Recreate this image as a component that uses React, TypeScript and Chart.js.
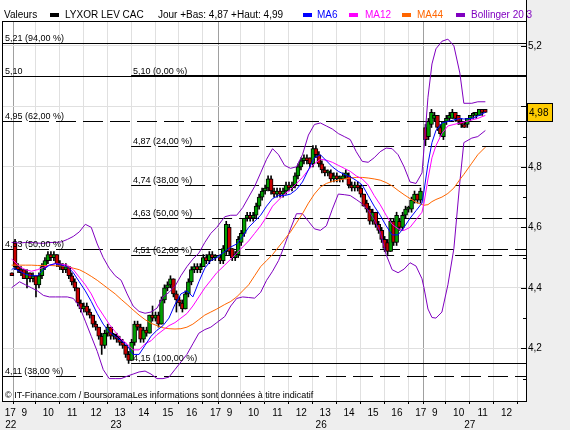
import React, { useEffect, useRef } from 'react';
import { Chart, registerables } from 'chart.js';

Chart.register(...registerables);

const FONT = '"Liberation Sans", Arial, sans-serif';

// ---------- time axis ----------
const dayOrder = ['22', '23', '26', '27'];
const sessionOpen = '09:05';
const sessionClose = '17:40';
const viewStart = '22 17:11';
const viewEnd = '27 13:21';

// ---------- candles ----------
const candleDays = ['22', '23', '26', '27'];
const candleFirst = ['17:32', '09:05', '09:05', '09:05'];
const candleCounts = [1, 68, 68, 21];
const candleStep = 7.5; // minutes per candle

const opens = [
  4.45,
  4.55, 4.47, 4.46, 4.46, 4.43, 4.45, 4.43, 4.44, 4.41, 4.44, 4.47, 4.49, 4.51, 4.50, 4.51, 4.48, 4.47, 4.46, 4.47, 4.44,
  4.42, 4.40, 4.35, 4.33, 4.34, 4.32, 4.31, 4.28, 4.27, 4.24, 4.21, 4.25, 4.27, 4.24, 4.24, 4.23, 4.22, 4.21, 4.18, 4.16,
  4.22, 4.28, 4.27, 4.23, 4.26, 4.25, 4.31, 4.30, 4.31, 4.28, 4.36, 4.40, 4.41, 4.43, 4.38, 4.36, 4.35, 4.33, 4.38, 4.42,
  4.46, 4.47, 4.46, 4.47, 4.50, 4.49, 4.51, 4.50,
  4.50, 4.49, 4.52, 4.60, 4.53, 4.50, 4.51, 4.55, 4.58, 4.63, 4.64, 4.63, 4.64, 4.67, 4.70, 4.72, 4.73, 4.76, 4.72, 4.71,
  4.72, 4.71, 4.72, 4.74, 4.73, 4.74, 4.77, 4.80, 4.82, 4.83, 4.83, 4.81, 4.86, 4.84, 4.81, 4.79, 4.78, 4.78, 4.76, 4.77,
  4.76, 4.76, 4.77, 4.77, 4.74, 4.73, 4.74, 4.73, 4.71, 4.68, 4.66, 4.62, 4.65, 4.61, 4.59, 4.56, 4.55, 4.52, 4.62, 4.55,
  4.62, 4.60, 4.64, 4.66, 4.66, 4.69, 4.71, 4.69,
  4.93, 4.90, 4.94, 4.96, 4.97, 4.93, 4.90, 4.95, 4.96, 4.96, 4.98, 4.97, 4.95, 4.94, 4.94, 4.96, 4.97, 4.97, 4.97, 4.99,
  4.99,
];
const highs = [
  4.45,
  4.56, 4.48, 4.47, 4.46, 4.46, 4.45, 4.45, 4.44, 4.45, 4.48, 4.50, 4.52, 4.52, 4.52, 4.51, 4.49, 4.48, 4.48, 4.47, 4.45,
  4.43, 4.40, 4.36, 4.35, 4.35, 4.33, 4.31, 4.29, 4.27, 4.25, 4.26, 4.28, 4.27, 4.25, 4.25, 4.24, 4.23, 4.21, 4.19, 4.23,
  4.29, 4.29, 4.28, 4.27, 4.27, 4.31, 4.34, 4.32, 4.32, 4.37, 4.41, 4.42, 4.44, 4.43, 4.39, 4.37, 4.36, 4.39, 4.43, 4.47,
  4.48, 4.48, 4.48, 4.51, 4.51, 4.52, 4.52, 4.51,
  4.51, 4.54, 4.62, 4.61, 4.53, 4.52, 4.57, 4.59, 4.63, 4.65, 4.65, 4.65, 4.68, 4.71, 4.73, 4.74, 4.77, 4.77, 4.73, 4.73,
  4.73, 4.73, 4.75, 4.75, 4.75, 4.78, 4.81, 4.83, 4.84, 4.84, 4.83, 4.87, 4.87, 4.85, 4.82, 4.80, 4.79, 4.79, 4.78, 4.78,
  4.77, 4.78, 4.79, 4.78, 4.75, 4.75, 4.75, 4.74, 4.71, 4.69, 4.67, 4.66, 4.65, 4.62, 4.60, 4.57, 4.56, 4.63, 4.63, 4.65,
  4.63, 4.65, 4.67, 4.67, 4.70, 4.72, 4.71, 4.73,
  4.94, 4.96, 4.99, 4.98, 4.97, 4.94, 4.95, 4.97, 4.98, 4.99, 4.98, 4.97, 4.96, 4.95, 4.96, 4.97, 4.98, 4.98, 4.99, 4.99,
  4.99,
];
const lows = [
  4.44,
  4.46, 4.45, 4.44, 4.43, 4.40, 4.42, 4.42, 4.37, 4.40, 4.43, 4.46, 4.48, 4.49, 4.49, 4.47, 4.46, 4.45, 4.45, 4.43, 4.41,
  4.39, 4.34, 4.32, 4.32, 4.31, 4.30, 4.27, 4.26, 4.23, 4.18, 4.20, 4.24, 4.23, 4.23, 4.22, 4.21, 4.20, 4.17, 4.15, 4.16,
  4.21, 4.26, 4.22, 4.22, 4.24, 4.25, 4.29, 4.29, 4.27, 4.28, 4.35, 4.39, 4.40, 4.37, 4.32, 4.34, 4.32, 4.33, 4.37, 4.41,
  4.45, 4.45, 4.45, 4.47, 4.48, 4.48, 4.49, 4.49,
  4.48, 4.48, 4.51, 4.51, 4.49, 4.49, 4.50, 4.54, 4.57, 4.62, 4.62, 4.62, 4.63, 4.66, 4.69, 4.71, 4.72, 4.71, 4.70, 4.70,
  4.70, 4.70, 4.71, 4.72, 4.72, 4.73, 4.76, 4.79, 4.81, 4.81, 4.80, 4.80, 4.83, 4.80, 4.78, 4.77, 4.77, 4.75, 4.75, 4.75,
  4.75, 4.75, 4.76, 4.73, 4.72, 4.72, 4.72, 4.70, 4.67, 4.65, 4.61, 4.61, 4.60, 4.58, 4.55, 4.52, 4.51, 4.52, 4.54, 4.54,
  4.59, 4.59, 4.63, 4.65, 4.65, 4.68, 4.68, 4.68,
  4.87, 4.89, 4.93, 4.95, 4.92, 4.90, 4.89, 4.94, 4.95, 4.96, 4.95, 4.94, 4.93, 4.93, 4.93, 4.95, 4.96, 4.96, 4.97, 4.97,
  4.98,
];
const closes = [
  4.44,
  4.47, 4.46, 4.45, 4.43, 4.45, 4.43, 4.44, 4.41, 4.44, 4.47, 4.49, 4.51, 4.50, 4.51, 4.48, 4.47, 4.46, 4.47, 4.44, 4.42,
  4.40, 4.35, 4.33, 4.34, 4.32, 4.31, 4.28, 4.27, 4.24, 4.21, 4.25, 4.27, 4.24, 4.24, 4.23, 4.22, 4.21, 4.18, 4.16, 4.22,
  4.28, 4.27, 4.23, 4.26, 4.25, 4.31, 4.30, 4.31, 4.28, 4.36, 4.40, 4.41, 4.43, 4.38, 4.36, 4.35, 4.33, 4.38, 4.42, 4.46,
  4.47, 4.46, 4.47, 4.50, 4.49, 4.51, 4.50, 4.50,
  4.49, 4.53, 4.61, 4.52, 4.50, 4.51, 4.56, 4.58, 4.63, 4.64, 4.63, 4.64, 4.67, 4.70, 4.72, 4.73, 4.76, 4.72, 4.71, 4.72,
  4.71, 4.72, 4.74, 4.73, 4.74, 4.77, 4.80, 4.82, 4.83, 4.82, 4.81, 4.86, 4.84, 4.81, 4.79, 4.78, 4.78, 4.76, 4.77, 4.76,
  4.76, 4.77, 4.78, 4.74, 4.73, 4.74, 4.73, 4.71, 4.67, 4.66, 4.62, 4.65, 4.61, 4.59, 4.56, 4.53, 4.52, 4.62, 4.55, 4.64,
  4.60, 4.64, 4.66, 4.66, 4.69, 4.71, 4.69, 4.72,
  4.89, 4.95, 4.98, 4.97, 4.93, 4.91, 4.95, 4.96, 4.97, 4.98, 4.96, 4.95, 4.94, 4.93, 4.96, 4.97, 4.97, 4.98, 4.99, 4.98,
  4.98,
];

// ---------- indicator lines (sampled times) ----------
const lineTimes = [
  '22 17:35',
  '23 09:05', '23 09:20', '23 09:35', '23 09:50', '23 10:05', '23 10:20', '23 10:35', '23 10:50', '23 11:05', '23 11:20',
  '23 11:35', '23 11:50', '23 12:05', '23 12:20', '23 12:35', '23 12:50', '23 13:05', '23 13:20', '23 13:35', '23 13:50',
  '23 14:05', '23 14:20', '23 14:35', '23 14:50', '23 15:05', '23 15:20', '23 15:35', '23 15:50', '23 16:05', '23 16:20',
  '23 16:35', '23 16:50', '23 17:05', '23 17:20', '23 17:35',
  '26 09:20', '26 09:35', '26 09:50', '26 10:05', '26 10:20', '26 10:35', '26 10:50', '26 11:05', '26 11:20', '26 11:35',
  '26 11:50', '26 12:05', '26 12:20', '26 12:35', '26 12:50', '26 13:05', '26 13:20', '26 13:35', '26 13:50', '26 14:05',
  '26 14:20', '26 14:35', '26 14:50', '26 15:05', '26 15:20', '26 15:35', '26 15:50', '26 16:05', '26 16:20', '26 16:35',
  '26 16:50', '26 17:05', '26 17:20', '26 17:35',
  '27 09:05', '27 09:15', '27 09:25', '27 09:35', '27 09:50', '27 10:05', '27 10:20', '27 10:35', '27 10:45', '27 11:05',
  '27 11:20', '27 11:39',
];
const ma6 = [
  4.46,
  4.465, 4.455, 4.445, 4.44, 4.44, 4.46, 4.475, 4.48, 4.475, 4.47, 4.45, 4.42, 4.39, 4.355, 4.315, 4.28, 4.255, 4.24, 4.225, 4.21,
  4.18, 4.18, 4.21, 4.24, 4.26, 4.275, 4.30, 4.345, 4.38, 4.39, 4.37, 4.42, 4.465, 4.49, 4.50,
  4.52, 4.535, 4.545, 4.57, 4.60, 4.62, 4.64, 4.67, 4.695, 4.705, 4.705, 4.71, 4.725, 4.75, 4.79, 4.83, 4.84, 4.82, 4.80, 4.785,
  4.775, 4.767, 4.755, 4.74, 4.705, 4.67, 4.64, 4.605, 4.575, 4.575, 4.60, 4.63, 4.655, 4.68,
  4.72, 4.81, 4.88, 4.92, 4.945, 4.95, 4.955, 4.96, 4.958, 4.96, 4.968, 4.98,
];
const ma12 = [
  4.495,
  4.49, 4.47, 4.46, 4.455, 4.46, 4.468, 4.475, 4.48, 4.478, 4.475, 4.46, 4.435, 4.41, 4.38, 4.34, 4.31, 4.28, 4.255, 4.23, 4.215,
  4.195, 4.195, 4.215, 4.225, 4.245, 4.26, 4.275, 4.285, 4.30, 4.315, 4.34, 4.37, 4.40, 4.425, 4.45,
  4.475, 4.495, 4.515, 4.535, 4.555, 4.58, 4.605, 4.635, 4.67, 4.69, 4.71, 4.725, 4.745, 4.765, 4.79, 4.81, 4.825, 4.822, 4.815, 4.805,
  4.795, 4.785, 4.77, 4.76, 4.74, 4.705, 4.675, 4.64, 4.61, 4.595, 4.59, 4.60, 4.625, 4.65,
  4.68, 4.76, 4.83, 4.87, 4.91, 4.935, 4.94, 4.945, 4.948, 4.955, 4.96, 4.97,
];
const ma44 = [
  4.475,
  4.475, 4.475, 4.475, 4.475, 4.474, 4.474, 4.474, 4.473, 4.472, 4.47, 4.465, 4.46, 4.45, 4.438, 4.425, 4.41, 4.395, 4.38, 4.362, 4.345,
  4.327, 4.31, 4.295, 4.283, 4.275, 4.268, 4.265, 4.264, 4.265, 4.27, 4.28, 4.295, 4.31, 4.32, 4.33,
  4.345, 4.355, 4.37, 4.39, 4.41, 4.44, 4.47, 4.49, 4.51, 4.535, 4.56, 4.585, 4.615, 4.645, 4.68, 4.71, 4.733, 4.745, 4.752, 4.756,
  4.76, 4.763, 4.765, 4.765, 4.763, 4.76, 4.756, 4.748, 4.737, 4.722, 4.708, 4.695, 4.683, 4.675,
  4.673, 4.675, 4.685, 4.692, 4.70, 4.712, 4.73, 4.758, 4.775, 4.812, 4.84, 4.865,
];
const bollUpper = [
  4.55,
  4.55, 4.548, 4.55, 4.55, 4.548, 4.547, 4.55, 4.55, 4.552, 4.56, 4.57, 4.585, 4.61, 4.60, 4.545, 4.50, 4.465, 4.44, 4.425, 4.38,
  4.34, 4.322, 4.316, 4.32, 4.333, 4.37, 4.385, 4.405, 4.44, 4.47, 4.495, 4.515, 4.55, 4.58, 4.60,
  4.635, 4.64, 4.64, 4.665, 4.70, 4.735, 4.78, 4.825, 4.86, 4.84, 4.805, 4.795, 4.80, 4.84, 4.905, 4.94, 4.945, 4.935, 4.925, 4.91,
  4.90, 4.89, 4.85, 4.818, 4.815, 4.83, 4.85, 4.862, 4.86, 4.84, 4.80, 4.75, 4.745, 4.78,
  4.86, 5.03, 5.14, 5.19, 5.215, 5.222, 5.20, 5.11, 5.01, 5.01, 5.015, 5.015,
];
const bollLower = [
  4.40,
  4.405, 4.42, 4.41, 4.40, 4.39, 4.375, 4.37, 4.37, 4.37, 4.37, 4.365, 4.34, 4.29, 4.24, 4.19, 4.13, 4.10, 4.10, 4.10, 4.108,
  4.115, 4.122, 4.125, 4.115, 4.10, 4.10, 4.105, 4.13, 4.155, 4.18, 4.215, 4.25, 4.262, 4.27, 4.285,
  4.305, 4.34, 4.365, 4.37, 4.368, 4.366, 4.385, 4.425, 4.455, 4.49, 4.54, 4.595, 4.645, 4.645, 4.62, 4.595, 4.59, 4.605, 4.66, 4.71,
  4.708, 4.705, 4.692, 4.678, 4.657, 4.625, 4.585, 4.51, 4.46, 4.45, 4.462, 4.483, 4.472, 4.43,
  4.40, 4.33, 4.302, 4.30, 4.32, 4.41, 4.53, 4.75, 4.88, 4.895, 4.90, 4.92,
];

// ---------- axis labels ----------
const hourLabelDays = ['22', '23', '26', '27'];
const hourLabelHours = [
  [17],
  [9, 10, 11, 12, 13, 14, 15, 16, 17],
  [9, 10, 11, 12, 13, 14, 15, 16, 17],
  [9, 10, 11, 12],
];
const gridDays = ['23', '26', '27'];
const gridHours = [
  [10, 11, 12, 13, 14, 15, 16, 17],
  [10, 11, 12, 13, 14, 15, 16, 17],
  [10, 11, 12, 13],
];
const dayLabels = ['22', '23', '26', '27'];
const dayLabelTimes = ['17:33', '13:22', '13:22', '11:00'];
const yTickValues = [4.1, 4.2, 4.3, 4.4, 4.5, 4.6, 4.7, 4.8, 4.9, 5.0, 5.1, 5.2];
const yMin = 4.026;
const yMax = 5.282;

// ---------- Fibonacci levels ----------
const fibValues = [5.21, 5.10, 5.10, 4.95, 4.87, 4.74, 4.63, 4.53, 4.51, 4.15, 4.11];
const fibTexts = ['5,21 (94,00 %)', '5,10', '5,10 (0,00 %)', '4,95 (62,00 %)', '4,87 (24,00 %)', '4,74 (38,00 %)',
  '4,63 (50,00 %)', '4,53 (50,00 %)', '4,51 (62,00 %)', '4,15 (100,00 %)', '4,11 (38,00 %)'];
const fibFrom = ['', '', '23 14:00', '', '23 14:00', '23 14:00', '23 14:00', '', '23 14:00', '23 14:00', ''];
const fibStyle = ['solid', 'solid', 'bold', 'dash', 'dash', 'dash', 'dash', 'dash', 'dash', 'solid', 'dash'];

const seriesName = 'LYXOR LEV CAC';
const watermark = '\u00A9 IT-Finance.com / BoursoramaLes informations sont données à titre indicatif';

// ---------- helpers ----------
const toMin = (hhmm: string) => { const [h, m] = hhmm.split(':').map(Number); return h * 60 + m; };
const SESSION = toMin(sessionClose) - toMin(sessionOpen);
const tm = (day: string, hhmm: string) => (dayOrder.indexOf(day) - 1) * SESSION + toMin(hhmm) - toMin(sessionOpen);
const tms = (s: string) => { const [d, t] = s.split(' '); return tm(d, t); };
const fmt = (v: number, d: number) => v.toFixed(d).replace('.', ',');

const X_MIN = tms(viewStart);
const X_MAX = tms(viewEnd);

const candleX: number[] = [];
candleDays.forEach((d, i) => {
  for (let k = 0; k < candleCounts[i]; k++) candleX.push(tm(d, candleFirst[i]) + (k + 0.5) * candleStep);
});

const lineX = lineTimes.map(tms);
const toPts = (vals: number[]) => vals.map((y, i) => ({ x: lineX[i], y }));

const sepValues = gridDays.map((d) => tm(d, sessionOpen));
const gridValues: number[] = [];
gridDays.forEach((d, i) => {
  gridValues.push(tm(d, sessionOpen));
  gridHours[i].forEach((h) => gridValues.push(tm(d, `${h}:00`)));
});
gridValues.sort((a, b) => a - b);

const hourTicks: { value: number; label: string }[] = [];
hourLabelDays.forEach((d, i) => {
  hourLabelHours[i].forEach((h) => hourTicks.push({ value: tm(d, `${h}:32`), label: String(h) }));
});
const dayTicks = dayLabels.map((d, i) => ({ value: tm(d, dayLabelTimes[i]), label: d }));

const lastDay = candleCounts.length - 1;
const lastDayStart = candleCounts.slice(0, lastDay).reduce((a, b) => a + b, 0);
const dayLow = Math.min(...lows.slice(lastDayStart));
const dayHigh = Math.max(...highs.slice(lastDayStart));
const lastClose = closes[closes.length - 1];

const isMajor = (v: number) => Math.round(v * 10) % 2 === 0;

const framePlugin = {
  id: 'frame',
  beforeDraw(chart: any) {
    const { ctx, chartArea: a, width, height } = chart;
    ctx.save();
    ctx.fillStyle = '#eeeeee';
    ctx.fillRect(0, 0, width, height);
    ctx.fillStyle = '#ffffff';
    ctx.fillRect(0, 0, a.right, a.bottom);
    ctx.restore();
  },
  beforeDatasetsDraw(chart: any) {
    const { ctx, chartArea: a, scales } = chart;
    const xs = scales.x, ys = scales.y;
    ctx.save();
    ctx.strokeStyle = '#000';
    fibValues.forEach((v, i) => {
      const y = Math.round(ys.getPixelForValue(v)) + 0.5;
      const x0 = fibFrom[i] ? xs.getPixelForValue(tms(fibFrom[i])) : a.left;
      const st = fibStyle[i];
      ctx.lineWidth = st === 'bold' ? 2 : 1;
      ctx.setLineDash(st === 'dash' ? [20, 7] : []);
      ctx.beginPath();
      ctx.moveTo(x0, st === 'bold' ? y - 0.5 : y);
      ctx.lineTo(a.right, st === 'bold' ? y - 0.5 : y);
      ctx.stroke();
    });
    ctx.restore();
  },
  afterDatasetsDraw(chart: any) {
    const { ctx, chartArea: a, scales } = chart;
    const xs = scales.x, ys = scales.y;
    ctx.save();
    // fib labels
    ctx.font = `9px ${FONT}`;
    ctx.fillStyle = '#000';
    ctx.textBaseline = 'alphabetic';
    fibValues.forEach((v, i) => {
      const y = Math.round(ys.getPixelForValue(v));
      const x0 = fibFrom[i] ? xs.getPixelForValue(tms(fibFrom[i])) + 2 : a.left + 3;
      ctx.fillText(fibTexts[i], x0, y - 2);
    });
    // watermark
    ctx.fillText(watermark, a.left + 3, a.bottom - 3);
    // frame top / left and axis extension
    ctx.fillStyle = '#000';
    ctx.fillRect(a.left, a.top, a.right - a.left, 1);
    ctx.fillRect(a.left, a.top, 1, a.bottom - a.top);
    ctx.fillRect(Math.round(a.right), 0, 1, a.top);
    // y ticks inside the plot
    yTickValues.forEach((v) => {
      const y = Math.round(ys.getPixelForValue(v));
      const len = isMajor(v) ? 5 : 3;
      ctx.fillRect(Math.round(a.right) - len, y, len, 1);
    });
    // header legend
    ctx.font = `10px ${FONT}`;
    const base = 18;
    const items: [string, number, string, number | null][] = [
      ['Valeurs', 4, '#000', null],
      [seriesName, 65, '#000', 50],
      [`Jour +Bas: ${fmt(dayLow, 2)} +Haut: ${fmt(dayHigh, 2)}`, 158, '#000', null],
      ['MA6', 317, '#0000ff', 303],
      ['MA12', 365, '#ff00ff', 349],
      ['MA44', 417, '#ff6600', 402],
      ['Bollinger 20 3', 471, '#8000c0', 456],
    ];
    items.forEach(([t, x, c, bx]) => {
      ctx.fillStyle = c;
      if (bx !== null) ctx.fillRect(bx, 13, 9, 4);
      ctx.fillText(t, x, base);
    });
    // last price box (drawn over the y labels)
    const py = ys.getPixelForValue(lastClose);
    const bx = Math.round(a.right) + 1;
    const by = Math.round(py - 9);
    ctx.fillStyle = '#ffcc00';
    ctx.fillRect(bx, by - 3, 25, 21);
    ctx.fillStyle = '#eeeeee';
    ctx.fillRect(bx, by - 3, 26, 3);
    ctx.fillStyle = '#ffcc00';
    ctx.fillRect(bx, by, 25, 18);
    ctx.strokeStyle = '#000';
    ctx.lineWidth = 1;
    ctx.strokeRect(bx + 0.5, by + 0.5, 25, 18);
    ctx.fillStyle = '#000';
    ctx.fillText(fmt(lastClose, 2), bx + 2, by + 13);
    ctx.restore();
  },
};

export default function App() {
  const ref = useRef<HTMLCanvasElement | null>(null);
  useEffect(() => {
    if (!ref.current) return;
    const lineDs = (label: string, vals: number[], color: string, order: number) => ({
      type: 'line' as const, label, data: toPts(vals), borderColor: color, borderWidth: 1,
      pointRadius: 0, tension: 0, order, xAxisID: 'x', yAxisID: 'y',
    });
    const chart = new Chart(ref.current, {
      type: 'line',
      data: {
        datasets: [
          lineDs('MA6', ma6, '#0000ff', 1),
          lineDs('MA12', ma12, '#ff00ff', 2),
          lineDs('MA44', ma44, '#ff6600', 3),
          lineDs('Bollinger haut', bollUpper, '#8000c0', 4),
          lineDs('Bollinger bas', bollLower, '#8000c0', 4),
          {
            type: 'bar', label: 'corps',
            data: candleX.map((x, i) => ({ x, y: [opens[i], closes[i]] })),
            backgroundColor: opens.map((o, i) => (closes[i] >= o ? '#00a000' : '#c80000')),
            borderColor: '#000', borderWidth: 1, borderSkipped: false, barThickness: 4, minBarLength: 2,
            grouped: false, order: 5, xAxisID: 'x', yAxisID: 'y',
          } as any,
          {
            type: 'bar', label: 'mèches',
            data: candleX.map((x, i) => ({ x, y: [lows[i], highs[i]] })),
            backgroundColor: '#000', borderWidth: 0, barThickness: 1,
            grouped: false, order: 6, xAxisID: 'x', yAxisID: 'y',
          } as any,
        ],
      },
      options: {
        animation: false,
        responsive: false,
        devicePixelRatio: 1,
        events: [],
        layout: { padding: { top: 21, left: 2, right: 0, bottom: 0 } },
        plugins: { legend: { display: false }, tooltip: { enabled: false } },
        scales: {
          x: {
            type: 'linear', position: 'bottom', min: X_MIN, max: X_MAX, offset: false,
            afterBuildTicks: (axis: any) => { axis.ticks = gridValues.map((value) => ({ value })); },
            afterFit: (axis: any) => { axis.height = 3; },
            ticks: { display: false },
            grid: {
              color: (c: any) => (sepValues.includes(c.tick?.value) ? '#a0a0a0' : '#e0e0e0'),
              tickColor: '#000', tickLength: 3, drawTicks: true, offset: false,
            },
            border: { display: true, color: '#000' },
          },
          xh: {
            type: 'linear', position: 'bottom', min: X_MIN, max: X_MAX, offset: false,
            afterBuildTicks: (axis: any) => { axis.ticks = hourTicks.map((t) => ({ value: t.value })); },
            afterFit: (axis: any) => { axis.height = 14; },
            ticks: {
              autoSkip: false, maxRotation: 0, minRotation: 0, padding: 3, color: '#000',
              font: { family: FONT, size: 10 },
              callback: (_v: any, i: number) => hourTicks[i]?.label ?? '',
            },
            grid: { display: false, drawTicks: false },
            border: { display: false },
          },
          xd: {
            type: 'linear', position: 'bottom', min: X_MIN, max: X_MAX, offset: false,
            afterBuildTicks: (axis: any) => { axis.ticks = dayTicks.map((t) => ({ value: t.value })); },
            afterFit: (axis: any) => { axis.height = 12; },
            ticks: {
              autoSkip: false, maxRotation: 0, minRotation: 0, padding: 1, color: '#000',
              font: { family: FONT, size: 10 },
              callback: (_v: any, i: number) => dayTicks[i]?.label ?? '',
            },
            grid: { display: false, drawTicks: false },
            border: { display: false },
          },
          y: {
            type: 'linear', position: 'right', min: yMin, max: yMax, stacked: false,
            afterBuildTicks: (axis: any) => { axis.ticks = yTickValues.map((value) => ({ value })); },
            afterFit: (axis: any) => { axis.width = 44; },
            ticks: {
              padding: 2, color: '#000', font: { family: FONT, size: 10 },
              callback: (v: any) => (isMajor(Number(v)) ? fmt(Number(v), 1) : ''),
            },
            grid: {
              color: (c: any) => (isMajor(Number(c.tick?.value)) ? '#e0e0e0' : 'rgba(0,0,0,0)'),
              drawTicks: false,
            },
            border: { display: true, color: '#000' },
          },
        },
      } as any,
      plugins: [framePlugin],
    } as any);
    return () => chart.destroy();
  }, []);

  return (
    <div style={{ position: 'absolute', left: 0, top: 0, width: 570, height: 430 }}>
      <canvas ref={ref} width={570} height={430} />
    </div>
  );
}
